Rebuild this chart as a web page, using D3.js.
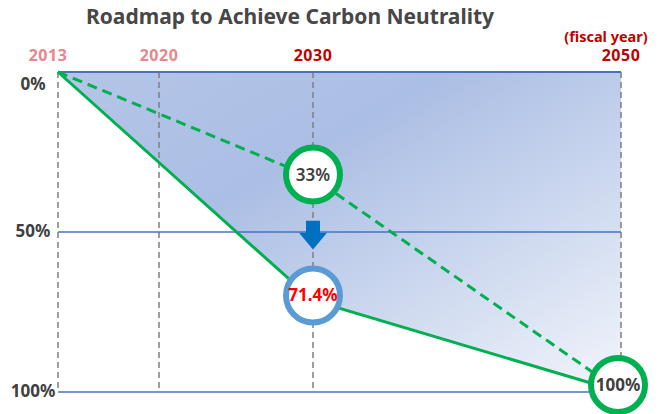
<!DOCTYPE html>
<html>
<head>
<meta charset="utf-8">
<script src="https://cdn.jsdelivr.net/npm/d3@7"></script>
<style>
  body { margin: 0; background: #fff; }
  text { font-family: "Noto Sans", "Open Sans", sans-serif; font-weight: bold; }
</style>
</head>
<body>
<div class="container"></div>
<script>
"use strict";

var width = 660;
var height = 414;

// Years on the top axis and how they are coloured
var years = [2013, 2020, 2030, 2050];
var yearColors = ["#E8878B", "#E8878B", "#C00000", "#C00000"];

// Reduction ticks on the left
var yTicks = [0, 50, 100];

// Target path (solid) and original plan (dashed), % reduction
var targetYears = [2013, 2030, 2050];
var targetValues = [0, 71.4, 100];
var planYears = [2013, 2030, 2050];
var planValues = [0, 33, 100];

// Circled labels
var markers = [
    {year: 2030, value: 33, label: "33%", ring: "#00B050", textColor: "#404040"},
    {year: 2030, value: 71.4, label: "71.4%", ring: "#5B9BD5", textColor: "#FF0000"},
    {year: 2050, value: 100, label: "100%", ring: "#00B050", textColor: "#404040"}
];

// Years are not evenly spaced in the original, so the scale is piecewise
var x = d3.scaleLinear()
    .domain(years)
    .range([58, 159, 313, 621]);

var y = d3.scaleLinear()
    .domain([0, 100])
    .range([72, 392]);

var svg = d3.select(".container").append("svg")
    .attr("width", width)
    .attr("height", height);

var defs = svg.append("defs");
var grad = defs.append("linearGradient")
    .attr("id", "area-grad")
    .attr("x1", "0%").attr("y1", "0%")
    .attr("x2", "100%").attr("y2", "100%");
grad.append("stop").attr("offset", "0%").attr("stop-color", "#B4C5E7");
grad.append("stop").attr("offset", "35%").attr("stop-color", "#ABBEE4");
grad.append("stop").attr("offset", "100%").attr("stop-color", "#F2F5FB");

// Title
svg.append("text")
    .attr("x", 290)
    .attr("y", 24)
    .attr("text-anchor", "middle")
    .attr("fill", "#474747")
    .style("font-size", "21px")
    .text("Roadmap to Achieve Carbon Neutrality");

// Shaded area: between the top line and the target path
var areaPts = [[2013, 0], [2050, 0], [2050, 100]];
for (var i = targetYears.length - 2; i >= 0; i--) {
    areaPts.push([targetYears[i], targetValues[i]]);
}
svg.append("path")
    .datum(areaPts)
    .attr("fill", "url(#area-grad)")
    .attr("d", d3.line().x(d => x(d[0])).y(d => y(d[1])));

// Vertical dashed year lines
svg.selectAll(".vline")
    .data(years)
    .enter().append("line")
    .attr("class", "vline")
    .attr("x1", d => x(d)).attr("x2", d => x(d))
    .attr("y1", y(0)).attr("y2", y(100))
    .attr("stroke", "#7F7F7F")
    .attr("stroke-width", 1.5)
    .attr("stroke-dasharray", "6,4");

// Horizontal gridlines
svg.selectAll(".hline")
    .data(yTicks)
    .enter().append("line")
    .attr("class", "hline")
    .attr("x1", x(2013)).attr("x2", x(2050))
    .attr("y1", d => y(d)).attr("y2", d => y(d))
    .attr("stroke", "#4472C4")
    .attr("stroke-width", d => d === 0 ? 2 : 1.5);

// Year labels
svg.selectAll(".year")
    .data(years)
    .enter().append("text")
    .attr("class", "year")
    .attr("x", d => x(d) - (d === 2013 ? 10 : 0))
    .attr("y", 61)
    .attr("text-anchor", "middle")
    .attr("fill", (d, i) => yearColors[i])
    .style("font-size", "16px")
    .style("letter-spacing", "0.5px")
    .text(d => d);

svg.append("text")
    .attr("x", 606)
    .attr("y", 42)
    .attr("text-anchor", "middle")
    .attr("fill", "#C00000")
    .style("font-size", "14.5px")
    .text("(fiscal year)");

// Y labels
svg.selectAll(".ylab")
    .data(yTicks)
    .enter().append("text")
    .attr("class", "ylab")
    .attr("x", 33)
    .attr("y", d => y(d) + (d === 0 ? 18 : 5))
    .attr("text-anchor", "middle")
    .attr("fill", "#404040")
    .style("font-size", "17px")
    .text(d => d + "%");

// Lines
var line = d3.line().x(d => x(d[0])).y(d => y(d[1]));

svg.append("path")
    .datum(d3.zip(planYears, planValues))
    .attr("fill", "none")
    .attr("stroke", "#00B050")
    .attr("stroke-width", 3)
    .attr("stroke-dasharray", "10,6")
    .attr("d", line);

svg.append("path")
    .datum(d3.zip(targetYears, targetValues))
    .attr("fill", "none")
    .attr("stroke", "#00B050")
    .attr("stroke-width", 3)
    .attr("d", line);

// Down arrow between the two 2030 circles
var ax = x(2030);
var aTop = y(46.5);
var aBot = y(55.5);
svg.append("path")
    .attr("fill", "#0070C0")
    .attr("d", `M${ax - 7},${aTop} L${ax + 7},${aTop} L${ax + 7},${aTop + 12}
        L${ax + 14},${aTop + 12} L${ax},${aBot} L${ax - 14},${aTop + 12} L${ax - 7},${aTop + 12} Z`);

// Circled labels
var mk = svg.selectAll(".marker")
    .data(markers)
    .enter().append("g")
    .attr("class", "marker")
    .attr("transform", d => {
        var dx = d.year === 2050 ? -3 : 0;
        var dy = d.value === 33 ? -3 : (d.value === 71.4 ? -5 : -7);
        return `translate(${x(d.year) + dx},${y(d.value) + dy})`;
    });

mk.append("circle")
    .attr("r", 27)
    .attr("fill", "#fff")
    .attr("stroke", d => d.ring)
    .attr("stroke-width", 6);

mk.append("text")
    .attr("y", 6)
    .attr("text-anchor", "middle")
    .attr("fill", d => d.textColor)
    .style("font-size", "17px")
    .style("font-weight", d => d.value === 33 ? 600 : "bold")
    .text(d => d.label);
</script>
</body>
</html>
